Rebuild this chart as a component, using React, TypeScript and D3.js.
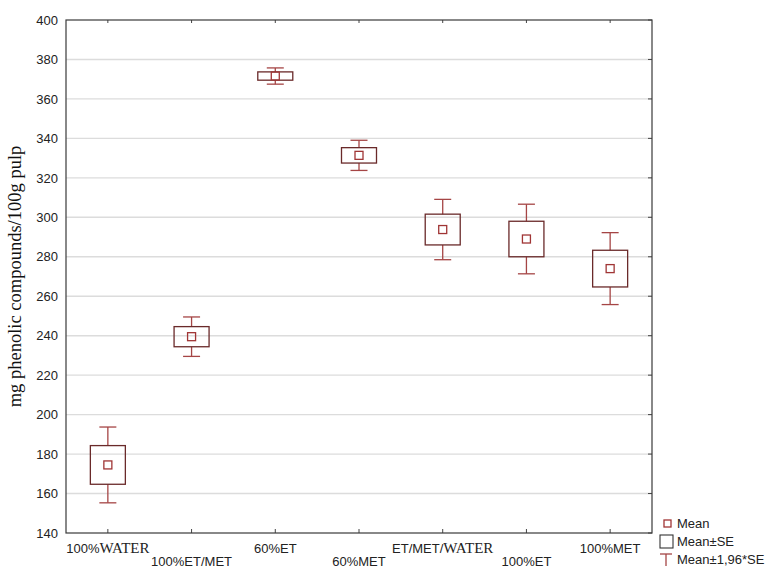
import React from "react";
import * as d3 from "d3";

const categories = ["100%WATER", "100%ET/MET", "60%ET", "60%MET", "ET/MET/WATER", "100%ET", "100%MET"];
const means = [174.5, 239.5, 371.6, 331.4, 293.8, 289.0, 274.0];
const stdErrors = [9.8, 5.1, 2.1, 3.9, 7.8, 9.0, 9.3];
const yTicks = [140, 160, 180, 200, 220, 240, 260, 280, 300, 320, 340, 360, 380, 400];
const legendLabels = ["Mean", "Mean±SE", "Mean±1,96*SE"];

const W = 768, H = 568;
const M = { left: 66, right: 652, top: 20, bottom: 533 };
const SANS = "'Liberation Sans', Arial, sans-serif";
const SERIF = "'Liberation Serif', 'Times New Roman', serif";
const BOX = "#6a2a2a";
const WHISK = "#a54545";
const MEAN = "#a03535";

function renderLabel(label: string) {
  // STATISTICA-style mixed fonts: 'WATER' appears in serif
  const idx = label.indexOf("WATER");
  if (idx < 0) return label;
  return (
    <>
      <tspan>{label.slice(0, idx)}</tspan>
      <tspan fontFamily={SERIF} fontSize={15}>WATER</tspan>
    </>
  );
}

export default function App() {
  const x = d3.scaleBand<string>().domain(categories).range([M.left, M.right]).padding(0);
  const y = d3.scaleLinear().domain([140, 400]).range([M.bottom, M.top]);
  const boxW = 35, capW = 17, meanS = 8;

  return (
    <svg width={W} height={H} style={{ position: "absolute", left: 0, top: 0, background: "#fff" }}>
      <rect x={0} y={0} width={W} height={H} fill="#fff" />
      {/* grid */}
      {yTicks.filter(t => t > 140 && t < 400).map(t => (
        <line key={t} x1={M.left} x2={M.right} y1={y(t)} y2={y(t)} stroke="#dcdcdc" strokeWidth={1.4} />
      ))}
      {/* right ticks */}
      {yTicks.map(t => (
        <line key={"r" + t} x1={M.right - 4} x2={M.right} y1={y(t)} y2={y(t)} stroke="#444" strokeWidth={1} />
      ))}
      {/* top & bottom ticks */}
      {categories.map(c => {
        const cx = x(c)! + x.bandwidth() / 2;
        return (
          <g key={"t" + c}>
            <line x1={cx} x2={cx} y1={M.top} y2={M.top + 3} stroke="#444" />
            <line x1={cx} x2={cx} y1={M.bottom} y2={M.bottom - 4} stroke="#444" />
          </g>
        );
      })}
      {/* frame */}
      <rect x={M.left} y={M.top} width={M.right - M.left} height={M.bottom - M.top} fill="none" stroke="#3a3a3a" strokeWidth={1.2} />
      {/* y tick labels */}
      {yTicks.map(t => (
        <text key={"l" + t} x={58} y={y(t)} dy="0.36em" textAnchor="end" fontFamily={SANS} fontSize={13} fill="#222">{t}</text>
      ))}
      {/* y title */}
      <text transform={`translate(21,${(M.top + M.bottom) / 2}) rotate(-90)`} textAnchor="middle" fontFamily={SERIF} fontSize={18.5} fill="#111">
        mg phenolic compounds/100g pulp
      </text>
      {/* boxes */}
      {categories.map((c, i) => {
        const cx = x(c)! + x.bandwidth() / 2;
        const m = means[i], se = stdErrors[i];
        const wTop = y(m + 1.96 * se), wBot = y(m - 1.96 * se);
        const bTop = y(m + se), bBot = y(m - se);
        return (
          <g key={c}>
            <line x1={cx} x2={cx} y1={wTop} y2={bTop} stroke={WHISK} strokeWidth={1.3} />
            <line x1={cx} x2={cx} y1={bBot} y2={wBot} stroke={WHISK} strokeWidth={1.3} />
            <line x1={cx - capW / 2} x2={cx + capW / 2} y1={wTop} y2={wTop} stroke={WHISK} strokeWidth={1.3} />
            <line x1={cx - capW / 2} x2={cx + capW / 2} y1={wBot} y2={wBot} stroke={WHISK} strokeWidth={1.3} />
            <rect x={cx - boxW / 2} y={bTop} width={boxW} height={bBot - bTop} fill="none" stroke={BOX} strokeWidth={1.3} />
            <rect x={cx - meanS / 2} y={y(m) - meanS / 2} width={meanS} height={meanS} fill="none" stroke={MEAN} strokeWidth={1.3} />
          </g>
        );
      })}
      {/* x labels */}
      {categories.map((c, i) => {
        const cx = x(c)! + x.bandwidth() / 2;
        return (
          <text key={"x" + c} x={cx} y={i % 2 === 0 ? 553 : 566} textAnchor="middle" fontFamily={SANS} fontSize={13} fill="#222">
            {renderLabel(c)}
          </text>
        );
      })}
      {/* legend */}
      <g fontFamily={SANS} fontSize={13} fill="#222">
        <rect x={664} y={520} width={7} height={7} fill="none" stroke={MEAN} strokeWidth={1.3} />
        <text x={677} y={528}>{legendLabels[0]}</text>
        <rect x={660} y={535} width={13} height={13} fill="none" stroke="#333" strokeWidth={1.1} />
        <text x={677} y={546}>{legendLabels[1]}</text>
        <line x1={660} x2={672} y1={554} y2={554} stroke={WHISK} strokeWidth={1.3} />
        <line x1={666} x2={666} y1={554} y2={566} stroke={WHISK} strokeWidth={1.3} />
        <text x={677} y={564}>{legendLabels[2]}</text>
      </g>
    </svg>
  );
}
